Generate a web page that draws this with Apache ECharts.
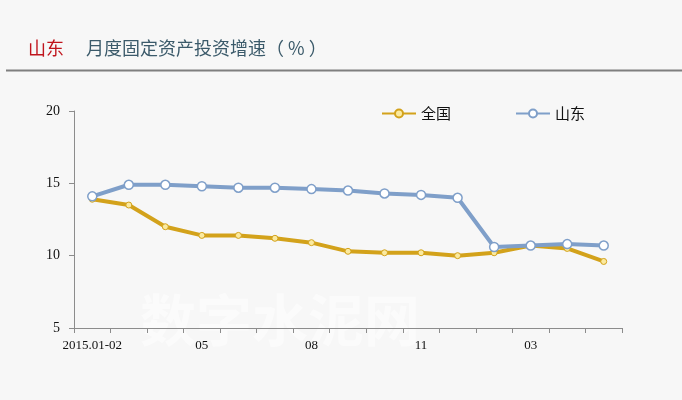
<!DOCTYPE html>
<html>
<head>
<meta charset="utf-8">
<script src="https://cdn.jsdelivr.net/npm/echarts@6/dist/echarts.min.js"></script>
<style>
  html, body { margin: 0; padding: 0; background: #f7f7f7; }
  #chart { width: 682px; height: 400px; }
</style>
</head>
<body>
<div id="chart"></div>
<script>
// 月份（累计）
const categories = ['2015.01-02', '03', '04', '05', '06', '07', '08', '09', '10', '11', '12', '2016.01-02', '03', '04', '05'];
// 全国固定资产投资累计增速（%）
const nationalValues = [13.9, 13.5, 12.0, 11.4, 11.4, 11.2, 10.9, 10.3, 10.2, 10.2, 10.0, 10.2, 10.7, 10.5, 9.6];
// 山东固定资产投资累计增速（%）
const shandongValues = [14.1, 14.9, 14.9, 14.8, 14.7, 14.7, 14.6, 14.5, 14.3, 14.2, 14.0, 10.6, 10.7, 10.8, 10.7];
const yTicks = [5, 10, 15, 20];

const cjk = '"Noto Sans CJK SC", sans-serif';
const serif = '"Liberation Serif", "DejaVu Serif", serif';

const chart = echarts.init(document.getElementById('chart'), null, { renderer: 'canvas' });
chart.setOption({
  backgroundColor: '#f7f7f7',
  animation: false,
  graphic: [
    { type: 'text', left: 140, top: 292, z: 0, style: { text: '数字水泥网', fill: 'rgba(255,255,255,0.5)', font: 'bold 56px ' + cjk, letterSpacing: 6 } },
    { type: 'text', left: 28, top: 39, style: { text: '山东', fill: '#c0141c', font: '18px ' + cjk } },
    { type: 'text', left: 86, top: 39, style: { text: '月度固定资产投资增速（ % ）', fill: '#3b5a6a', font: '18px ' + cjk } },
    { type: 'line', shape: { x1: 6, y1: 70.5, x2: 682, y2: 70.5 }, style: { stroke: '#7f7f7f', lineWidth: 2 } }
  ],
  legend: {
    top: 101,
    left: 376,
    itemWidth: 34,
    itemHeight: 10,
    itemGap: 64,
    textStyle: { fontFamily: cjk, fontSize: 15, color: '#111' },
    data: ['全国', '山东']
  },
  grid: { left: 74, right: 60, top: 111, bottom: 72 },
  xAxis: {
    type: 'category',
    data: categories,
    boundaryGap: true,
    axisLine: { lineStyle: { color: '#8c8c8c', width: 1 } },
    axisTick: { show: true, length: 5, lineStyle: { color: '#8c8c8c' }, interval: 0 },
    axisLabel: { interval: 2, color: '#111', fontFamily: serif, fontSize: 13, margin: 11 }
  },
  yAxis: {
    type: 'value',
    min: yTicks[0],
    max: yTicks[yTicks.length - 1],
    interval: 5,
    axisLine: { show: true, lineStyle: { color: '#8c8c8c', width: 1 } },
    axisTick: { show: true, length: 5, lineStyle: { color: '#8c8c8c' } },
    splitLine: { show: false },
    axisLabel: { color: '#111', fontFamily: serif, fontSize: 14, margin: 14 }
  },
  series: [
    {
      name: '全国',
      type: 'line',
      data: nationalValues,
      symbol: 'circle',
      symbolSize: 6,
      lineStyle: { color: '#d3a21b', width: 4 },
      itemStyle: { color: '#fbeaa0', borderColor: '#d3a21b', borderWidth: 1 },
      z: 2
    },
    {
      name: '山东',
      type: 'line',
      data: shandongValues,
      symbol: 'circle',
      symbolSize: 9,
      lineStyle: { color: '#7f9fc9', width: 4 },
      itemStyle: { color: '#ffffff', borderColor: '#7f9fc9', borderWidth: 1.5 },
      z: 3
    }
  ]
});
</script>
</body>
</html>
